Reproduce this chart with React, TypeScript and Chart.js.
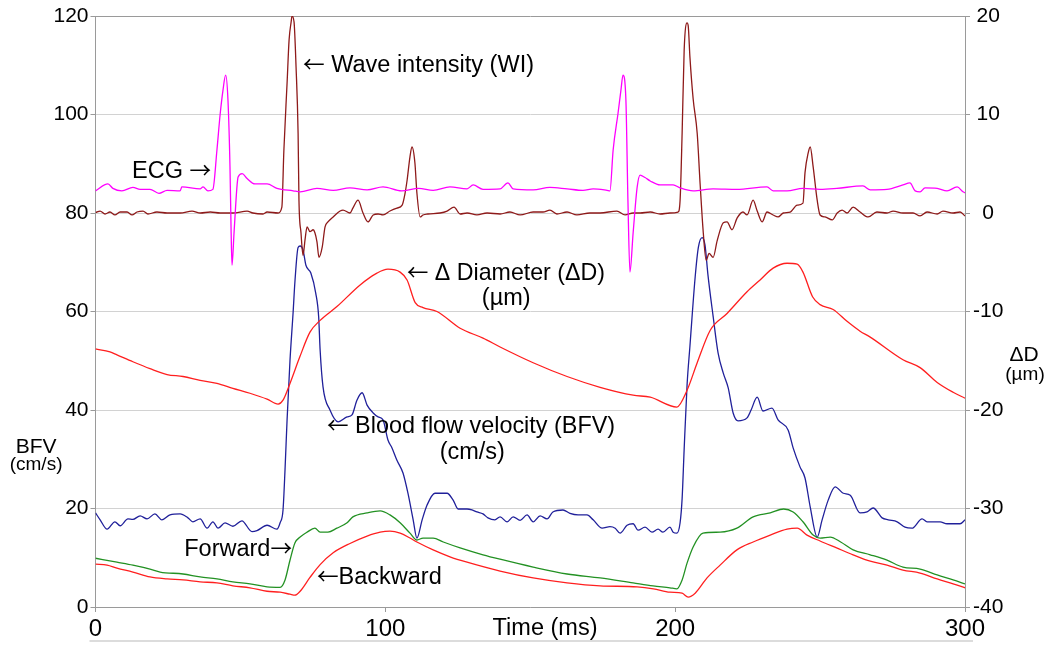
import React, { useEffect, useRef } from "react";
import { Chart, registerables } from "chart.js";

Chart.register(...registerables);

// ---------- data (time in ms) ----------
const ecgT = [0,4.3,6.0,9.1,12.9,15.4,18.8,21.9,24.7,29.2,29.8,36.1,37.1,38.8,40.5,41.9,43.0,44.0,44.9,45.7,46.4,46.8,47.1,47.8,48.8,49.2,50.6,52.3,55.0,59.2,62.6,68.2,70.6,76.4,82.0,87.8,93.7,99.2,105.6,111.5,116.5,122.3,128.2,130.3,133.7,139.6,142.3,144.1,151.0,156.8,162.7,168.2,171.7,176.5,177.5,178.6,180.3,181.3,182.0,183.0,183.7,184.4,185.5,186.9,187.9,189.6,191.4,194.8,199.3,201.7,206.2,213.1,221.3,231.7,233.8,238.6,244.1,250.0,255.8,264.8,267.3,273.1,278.6,281.0,282.8,284.5,286.2,290.4,293.8,297.3,299.3,300];
const ecgV = [84.5,85.9,85.0,84.5,85.2,84.8,84.8,84.0,84.6,84.5,85.3,84.9,85.3,84.5,84.8,92.8,100,105,108.0,103,89.4,76,69.4,76,85.3,87.3,88.0,87,85.9,85.9,85.0,84.5,84.3,85.0,84.6,85.1,84.7,85.3,84.5,85.0,84.6,85.3,84.9,85.7,84.8,84.9,86.1,84.9,84.7,85.2,84.9,84.6,84.9,84.6,84.5,92.8,100.3,105,108.0,103,82.6,68,76,85.3,87.7,87.2,86.5,85.7,85.7,85.1,84.5,84.9,84.8,85.3,84.5,84.5,85.0,84.8,85.0,85.5,84.7,84.8,85.7,86.1,84.5,84.3,85.1,85.0,84.5,85.3,84.3,84.1];

const wiT = [0.1,1.6,3.3,5.0,6.7,8.5,10.9,12.6,14.3,16.4,18.1,21.2,24.7,29.2,33.3,36.2,39.6,43.0,47.4,52.3,54.3,57.8,59.2,63.0,64.3,65.0,66.1,66.8,67.5,67.8,68.5,69.2,69.9,70.2,70.9,71.6,72.3,73.0,74.0,75.1,75.7,76.4,77.1,78.2,79.2,80.2,82.0,84.4,85.4,87.8,88.8,90.6,92.3,94.0,95.8,97.5,99.2,101.6,104.0,105.8,106.8,107.5,108.5,109.2,110.2,110.9,112.0,113.0,114.7,118.9,121.3,123.7,125.8,128.2,131.6,135.1,139.6,143.0,146.5,151.0,154.4,156.8,159.2,162.7,166.1,170.6,174.1,179.9,182.7,185.5,187.9,191.4,194.8,198.2,201.0,201.7,202.4,203.1,204.1,204.5,205.1,206.2,207.6,208.6,209.7,210.7,211.7,213.1,214.5,216.6,217.9,219.6,221.4,223.4,224.8,226.9,228.3,230.0,231.7,233.8,235.5,237.3,239.7,242.1,244.1,244.8,245.9,246.6,247.6,249.0,250.0,251.7,254.2,255.9,257.6,259.3,261.4,263.8,266.6,269.6,273.1,275.2,278.6,282.1,284.5,286.9,290.4,292.4,295.9,298.3,300];
const wiV = [0.05,0.2,-0.1,0.1,-0.2,0.1,0.1,-0.2,0.1,0.2,-0.1,0.1,0,0,0.2,0,0.1,0,0,0.2,0,-0.1,0.1,0,0.6,6.4,13.2,17.6,19.4,20.0,19.4,14.8,8.1,1.3,-2.0,-4.3,-2.7,-1.4,-1.9,-1.7,-2.0,-2.9,-4.5,-3.5,-1.4,-0.9,-0.4,0.2,0.3,0,0.5,1.3,0,-0.9,-0.2,-0.1,-0.2,0.2,0.5,0.8,2.0,3.3,5.7,6.7,5.1,2.0,-0.4,-0.2,-0.1,0,0.2,0.6,-0.1,0,-0.2,0,-0.1,0.1,-0.2,0.1,0.1,0.3,-0.1,0.1,-0.2,0,0,0.2,-0.2,0,0,0.1,-0.1,0,0.1,1.3,8.1,16.5,19.3,19.0,15.8,11.6,8.1,3.0,-2.0,-4.8,-4.1,-4.5,-2.8,-1.0,-0.9,-1.7,-0.5,0.1,-0.2,1.3,0.2,-0.9,0.1,-0.2,-0.4,0,0.1,0.8,1.0,4.1,6.1,6.7,4.7,1.3,-0.2,-0.4,-0.7,0,0.3,0,0.6,0.1,-0.4,0.1,0,0.2,0,0,-0.3,0.1,-0.1,0.2,0,0.1,-0.3];

const diamT = [0,5.0,7.4,12.9,18.8,24.7,30.2,36.1,41.9,47.4,53.3,59.2,63.0,64.7,67.1,70.5,74.0,77.5,83.3,91.3,97.1,100.9,105.1,107.5,110.3,113.0,117.8,125.8,133.7,139.6,151.0,162.7,174.1,185.5,191.4,200.6,204.1,207.6,212.1,217.9,224.8,229.3,233.8,238.6,242.1,244.1,247.4,250.0,254.5,259.3,263.8,267.3,278.6,284.5,290.4,295.9,300];
const diamV = [-13.8,-14.1,-14.4,-15.1,-15.8,-16.4,-16.6,-17.0,-17.3,-17.8,-18.3,-18.9,-19.4,-19.0,-17.3,-14.6,-12.1,-10.9,-9.5,-7.3,-6.1,-5.7,-6.0,-6.8,-9.1,-9.6,-10.0,-11.7,-12.7,-13.6,-15.2,-16.6,-17.7,-18.5,-18.7,-19.7,-18.0,-15.2,-11.9,-10.2,-8.0,-6.8,-5.6,-5.1,-5.2,-6.0,-8.5,-9.3,-9.8,-11.0,-12.0,-12.6,-14.9,-15.7,-17.2,-18.2,-18.8];

const bfvT = [0,1.6,4.0,6.7,8.5,11.2,12.9,15.4,17.8,20.5,22.9,25.7,29.2,31.9,33.6,36.1,38.5,40.5,42.3,44.7,47.4,50.5,54.0,55.7,59.2,62.6,63.7,64.7,65.4,66.1,67.1,68.2,68.8,69.9,70.6,71.6,72.6,74.3,76.0,77.0,77.5,78.5,80.9,83.7,86.8,88.5,90.2,92.0,93.7,95.8,97.5,99.2,100.9,102.3,104.0,106.1,107.8,109.6,110.9,112.7,114.4,117.1,121.3,123.4,125.1,128.2,129.9,131.6,133.7,135.4,137.8,139.6,142.0,144.1,146.5,148.9,151.0,153.4,155.8,157.8,161.3,163.7,166.5,169.6,171.7,174.8,177.5,179.3,181.0,183.4,185.5,187.2,189.6,192.0,194.1,195.8,198.2,199.3,200.6,201.7,202.4,203.1,204.1,205.1,206.9,208.0,209.3,210.3,211.3,213.1,214.8,216.6,218.3,220.0,221.7,224.8,226.2,228.3,230.3,233.4,235.5,239.0,240.7,243.1,244.8,246.6,249.0,250.7,252.8,255.2,258.0,260.4,263.8,266.2,268.3,271.4,273.5,276.6,279.3,281.7,285.2,286.9,291.4,293.8,298.3,300];
const bfvV = [19.1,17.7,15.8,17.3,16.5,17.9,17.8,18.5,17.9,18.9,17.7,18.7,18.9,18.1,17.3,17.9,16.0,17.3,16.0,17.1,16.4,17.5,15.3,15.5,16.6,15.8,17.1,19.7,28,38,50,60,66,73.0,73.3,72.5,69.4,67.8,63.7,58.9,52.2,44.7,40.0,37.6,38.6,39.0,42.0,43.5,41.0,39.4,38.6,38.0,33.9,32.3,29.8,27.2,23.1,17.7,14.0,17.7,20.7,23.1,23.1,21.7,19.9,19.9,19.7,19.3,18.9,18.1,17.7,18.3,17.3,18.3,17.6,18.7,17.3,18.5,17.9,19.3,19.7,19.0,18.7,18.7,17.7,16.0,16.3,16.0,15.0,16.6,16.9,15.6,16.2,15.2,15.8,15.2,16.2,15.2,15.0,17.1,22,32,45,53,67,73,75.0,73.5,67.5,59,51.6,47.5,44.5,39.4,37.8,38.4,40.0,42.6,39.8,40.4,38.0,35.9,32.3,28.4,26.2,20.3,14.2,17.7,21.7,24.4,23.1,22.7,19.1,19.3,20.1,18.1,17.7,17.3,16.2,16.0,17.9,17.3,17.3,16.9,16.9,17.7];

const fwdT = [0,7.4,12.9,18.8,22.3,30.2,36.1,41.9,47.4,53.3,59.2,63.7,65.4,67.1,68.8,70.6,73.0,75.7,77.5,80.2,83.3,86.8,88.8,93.7,98.2,101.6,105.1,108.5,110.9,113.0,116.5,120.0,125.8,133.7,139.6,151.0,162.7,174.1,185.5,192.4,198.2,200.6,202.4,204.1,206.2,209.6,215.5,221.3,226.9,232.8,237.4,240.7,244.1,247.6,250.0,253.5,257.1,261.4,267.3,273.1,278.6,284.5,290.4,295.9,300];
const fwdV = [9.9,9.1,8.5,7.7,7.1,6.7,6.1,5.7,5.1,4.7,4.1,4.0,5.5,9.5,13.0,14.2,15.2,16.0,15.2,15.2,16.0,17.1,18.3,19.1,19.5,18.7,17.1,15.0,13.6,14.0,14.0,13.2,12.0,10.6,9.7,8.1,6.7,5.9,4.9,4.3,3.9,3.7,5.5,8.9,12.2,15.0,15.2,16.0,18.3,19.1,19.9,19.3,17.3,14.6,14.0,14.2,13.2,11.6,10.6,9.5,8.1,7.7,6.5,5.5,4.7];

const bwdT = [0,4.0,7.4,12.9,18.8,24.7,30.2,36.1,41.9,47.4,53.3,59.2,63.7,67.1,68.8,70.6,74.0,77.5,82.0,87.8,93.7,98.2,101.6,105.1,108.5,110.9,116.5,122.3,128.2,139.6,151.0,162.7,174.1,186.9,192.5,198.2,202.4,204.5,206.9,211.0,215.5,221.3,226.9,232.8,238.6,242.1,245.5,250.0,255.7,261.4,267.3,273.1,278.6,284.5,290.4,295.9,300];
const bwdV = [8.7,8.5,7.9,7.1,6.1,5.7,5.5,5.1,4.9,4.3,3.9,3.2,3.0,2.6,2.4,3.2,6.0,8.6,11.0,12.9,14.4,15.2,15.4,15.0,14.0,13.2,11.6,10.2,9.1,7.3,5.9,4.9,4.3,4.1,3.7,3.0,2.8,2.0,2.8,5.9,8.5,11.6,13.2,14.6,15.8,16.0,14.6,13.4,12.0,10.6,9.3,8.5,7.5,6.9,5.7,4.7,3.9];

const xTicks = [0, 100, 200, 300];
const leftTicks = [0, 20, 40, 60, 80, 100, 120];
const rightTicks = [-40, -30, -20, -10, 0, 10, 20];

// text labels placed in data units (x: ms, y: left axis value)
const labelTexts = ["ECG \u2192", "\u2190 Wave intensity (WI)", "\u2190 \u0394 Diameter (\u0394D)", "(\u00b5m)", "\u2190 Blood flow velocity (BFV)", "(cm/s)", "Forward\u2192", "\u2190Backward", "BFV", "(cm/s)", "\u0394D", "(\u00b5m)", "Time (ms)"];
const labelX = [12.6, 71.6, 107.5, 141.7, 79.9, 130, 67.8, 76.4, -20.5, -20.5, 320.4, 320.7, 155.1];
const labelY = [88.9, 110.3, 68.0, 63.1, 37.0, 31.7, 12.0, 6.3, 32.9, 29.2, 51.4, 47.5, -4.06];
const labelAlign = ["left", "left", "left", "center", "left", "center", "right", "left", "center", "center", "center", "center", "center"];
const labelSize = [23.5, 23.5, 23.2, 23.5, 23.4, 23.5, 23.5, 23.5, 21, 19, 21, 19, 23.5];

const FONT = '"Liberation Sans", Arial, Helvetica, sans-serif';
const ARROW_FONT = '"Noto Sans CJK JP", "DejaVu Sans", sans-serif';
const ARROWS = "\u2190\u2192";

const zip = (t: number[], v: number[]) => {
  const n = Math.min(t.length, v.length);
  const out: { x: number; y: number }[] = [];
  for (let i = 0; i < n; i++) out.push({ x: t[i], y: v[i] });
  return out;
};

function drawLabel(ctx: CanvasRenderingContext2D, text: string, x: number, y: number, size: number, align: string) {
  const runs: { s: string; a: boolean }[] = [];
  let cur = "";
  let curA: boolean | null = null;
  for (const ch of text) {
    const isA = ARROWS.includes(ch);
    if (curA === null || isA === curA) cur += ch;
    else {
      runs.push({ s: cur, a: curA });
      cur = ch;
    }
    curA = isA;
  }
  if (cur) runs.push({ s: cur, a: !!curA });
  const fontFor = (a: boolean) => `${a ? size * 0.92 : size}px ${a ? ARROW_FONT : FONT}`;
  let total = 0;
  const widths = runs.map((r) => {
    ctx.font = fontFor(r.a);
    const w = ctx.measureText(r.s).width;
    total += w;
    return w;
  });
  let sx = align === "left" ? x : align === "right" ? x - total : x - total / 2;
  ctx.textAlign = "left";
  ctx.textBaseline = "alphabetic";
  const base = y + 0.36 * size;
  runs.forEach((r, i) => {
    ctx.font = fontFor(r.a);
    ctx.fillText(r.s, sx, base);
    sx += widths[i];
  });
}

const textPlugin = {
  id: "textLabels",
  afterDraw(chart: any) {
    const { ctx, scales } = chart;
    const xs = scales.x;
    const ys = scales.y;
    ctx.save();
    // light rule under the axis labels
    ctx.strokeStyle = "#dcdcdc";
    ctx.lineWidth = 2;
    ctx.beginPath();
    ctx.moveTo(xs.left - 6, chart.chartArea.bottom + 34);
    ctx.lineTo(xs.right + 8, chart.chartArea.bottom + 34);
    ctx.stroke();
    ctx.fillStyle = "#000";
    for (let i = 0; i < labelTexts.length; i++) {
      drawLabel(ctx, labelTexts[i], xs.getPixelForValue(labelX[i]), ys.getPixelForValue(labelY[i]), labelSize[i], labelAlign[i]);
    }
    ctx.restore();
  },
};

export default function App() {
  const canvasRef = useRef<HTMLCanvasElement | null>(null);

  useEffect(() => {
    if (!canvasRef.current) return;
    const line = (label: string, t: number[], v: number[], color: string, axis: string) => ({
      label,
      data: zip(t, v),
      borderColor: color,
      backgroundColor: color,
      borderWidth: 1.3,
      pointRadius: 0,
      fill: false,
      yAxisID: axis,
      cubicInterpolationMode: "monotone" as const,
    });
    const chart = new Chart(canvasRef.current, {
      type: "line",
      data: {
        datasets: [
          line("Backward", bwdT, bwdV, "#ff1f1f", "y"),
          line("Forward", fwdT, fwdV, "#239123", "y"),
          line("ΔD", diamT, diamV, "#ff1f1f", "y1"),
          line("ECG", ecgT, ecgV, "#ff00ff", "y"),
          line("WI", wiT, wiV, "#8e1a1a", "y1"),
          line("BFV", bfvT, bfvV, "#20209a", "y"),
        ],
      },
      options: {
        responsive: true,
        maintainAspectRatio: false,
        animation: false,
        layout: { padding: { top: 16, left: 0, right: 0, bottom: 0 } },
        plugins: { legend: { display: false }, tooltip: { enabled: false } },
        scales: {
          x: {
            type: "linear",
            min: 0,
            max: 300,
            afterBuildTicks: (s: any) => { s.ticks = xTicks.map((value) => ({ value })); },
            ticks: { font: { size: 24, family: FONT }, color: "#000", padding: 3, maxRotation: 0, autoSkip: false },
            grid: { drawOnChartArea: false, drawTicks: true, tickLength: 5, color: "#9a9a9a" },
            border: { color: "#9a9a9a", width: 1 },
            afterFit: (s: any) => { s.height = 50; },
          },
          y: {
            position: "left",
            min: 0,
            max: 120,
            afterBuildTicks: (s: any) => { s.ticks = leftTicks.map((value) => ({ value })); },
            ticks: { font: { size: 21, family: FONT }, color: "#000", padding: 2 },
            grid: {
              color: (c: any) => (c.tick && c.tick.value === 120 ? "#9a9a9a" : "#d2d2d2"),
              tickColor: "#9a9a9a",
              tickLength: 5,
            },
            border: { color: "#9a9a9a", width: 1 },
            afterFit: (s: any) => { s.width = 95.5; },
          },
          y1: {
            position: "right",
            min: -40,
            max: 20,
            afterBuildTicks: (s: any) => { s.ticks = rightTicks.map((value) => ({ value })); },
            ticks: { font: { size: 21, family: FONT }, color: "#000", padding: 3, crossAlign: "center" },
            grid: { drawOnChartArea: false, tickLength: 5, color: "#9a9a9a" },
            border: { color: "#9a9a9a", width: 1 },
            afterFit: (s: any) => { s.width = 85; },
          },
        },
      } as any,
      plugins: [textPlugin],
    });
    return () => chart.destroy();
  }, []);

  return (
    <div style={{ position: "absolute", left: 0, top: 0, width: 1050, height: 657, background: "#fff" }}>
      <canvas ref={canvasRef} />
    </div>
  );
}
